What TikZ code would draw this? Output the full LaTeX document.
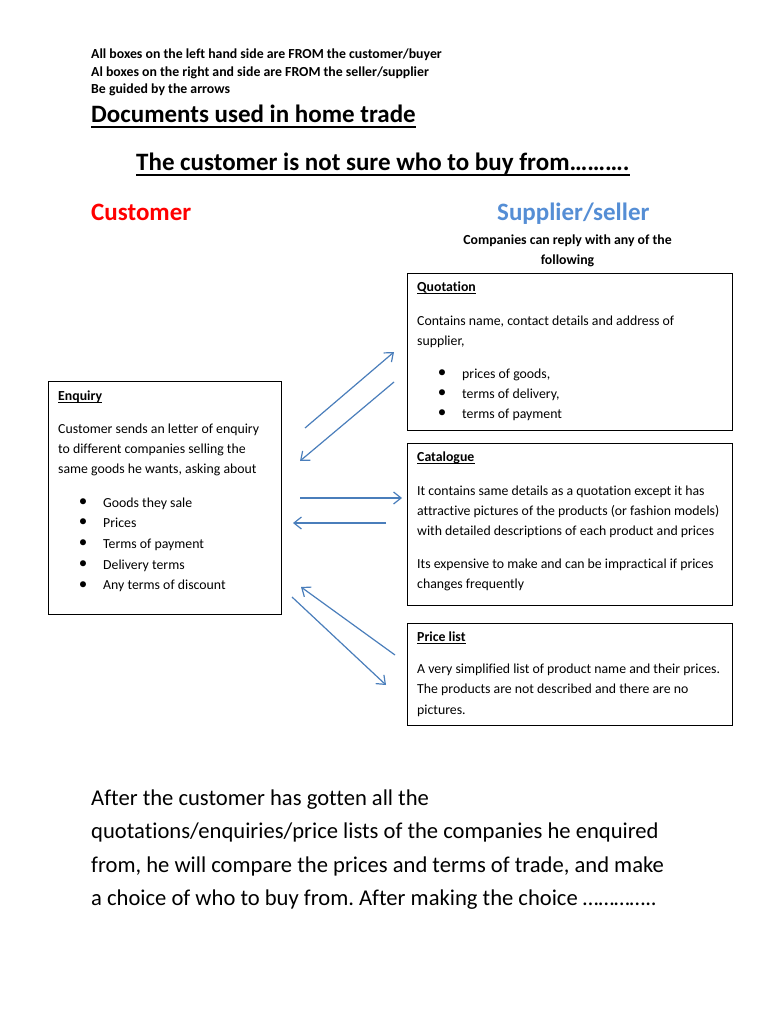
\documentclass[tikz,border=0pt]{standalone}
\usepackage{fontspec}
\setmainfont{Carlito}[Ligatures={NoCommon}]
\usetikzlibrary{arrows.meta}
\definecolor{suppblue}{HTML}{558ED5}
\definecolor{arrblue}{HTML}{4A7EBB}
\frenchspacing
\newcommand{\fsmall}{\fontsize{13.8}{16}\selectfont}
\newcommand{\fbul}{\fontsize{17}{16}\selectfont}
\newcommand{\fbig}{\fontsize{25}{30}\selectfont}
\newcommand{\fpara}{\fontsize{22.6}{27}\selectfont}
\tikzset{
  txt/.style={inner sep=0pt, anchor=base west, font=\fsmall},
  btxt/.style={txt, font=\fsmall\bfseries},
  bigtxt/.style={inner sep=0pt, anchor=base west, font=\fbig\bfseries},
  paratxt/.style={inner sep=0pt, anchor=base west, font=\fpara},
  bul/.style={inner sep=0pt, anchor=base, font=\fbul, yshift=0.5pt},
  docbox/.style={draw=black, line width=1pt, inner sep=0pt, fill=none},
  arr/.style={draw=arrblue, line width=1.2pt, -{Straight Barb[length=7.5pt,width=12pt,line width=1.2pt]}},
  uline/.style={line width=#1},
}
\begin{document}
\begin{tikzpicture}[x=1pt,y=-1pt]
\useasboundingbox[fill=white] (0,0) rectangle (768,1024);

% header notes
\node[btxt] (n1) at (91,59) {All boxes on the left hand side are FROM the customer/buyer};
\node[btxt] (n2) at (91,76.5) {Al boxes on the right and side are FROM the seller/supplier};
\node[btxt] (n3) at (91,94) {Be guided by the arrows};

% title
\node[bigtxt] (title) at (91,123) {Documents used in home trade};
\draw[uline=2pt] ([yshift=-4pt]title.base west) -- ([yshift=-4pt]title.base east);
\node[bigtxt] (sub) at (136,171) {The customer is not sure who to buy from……….};
\draw[uline=2pt] ([yshift=-4pt]sub.base west) -- ([yshift=-4pt]sub.base east);

\node[bigtxt, text=red] (cust) at (91,221) {Customer};
\node[bigtxt, text=suppblue] (supp) at (497,221) {Supplier/seller};

\node[btxt, anchor=base] (rep1) at (567.5,244.5) {Companies can reply with any of the};
\node[btxt, anchor=base] (rep2) at (567.5,264.5) {following};

% boxes
\node[docbox, minimum width=325pt, minimum height=157pt] (quot) at (569.5,351.5) {};
\node[docbox, minimum width=325pt, minimum height=162pt] (cata) at (569.5,524) {};
\node[docbox, minimum width=325pt, minimum height=102pt] (plist) at (569.5,674) {};
\node[docbox, minimum width=233pt, minimum height=233pt] (enq) at (164.5,497.5) {};

% Quotation text
\node[btxt] (qt) at (417,291.5) {Quotation};
\draw[uline=0.9pt] ([yshift=-2pt]qt.base west) -- ([yshift=-2pt]qt.base east);
\node[txt] (q1) at (417,325) {Contains name, contact details and address of};
\node[txt] (q2) at (417,345) {supplier,};
\node[bul] (qb1) at (442,378) {•};
\node[bul] (qb2) at (442,398) {•};
\node[bul] (qb3) at (442,418) {•};
\node[txt] (q3) at (462,378) {prices of goods,};
\node[txt] (q4) at (462,398) {terms of delivery,};
\node[txt] (q5) at (462,418) {terms of payment};

% Catalogue text
\node[btxt] (ct) at (417,461.5) {Catalogue};
\draw[uline=0.9pt] ([yshift=-2pt]ct.base west) -- ([yshift=-2pt]ct.base east);
\node[txt] (c1) at (417,495) {It contains same details as a quotation except it has};
\node[txt] (c2) at (417,515) {attractive pictures of the products (or fashion models)};
\node[txt] (c3) at (417,535.5) {with detailed descriptions of each product and prices};
\node[txt] (c4) at (417,568) {Its expensive to make and can be impractical if prices};
\node[txt] (c5) at (417,588) {changes frequently};

% Price list text
\node[btxt] (pt) at (417,641.5) {Price list};
\draw[uline=0.9pt] ([yshift=-2pt]pt.base west) -- ([yshift=-2pt]pt.base east);
\node[txt] (p1) at (417,673) {A very simplified list of product name and their prices.};
\node[txt] (p2) at (417,693.5) {The products are not described and there are no};
\node[txt] (p3) at (417,714) {pictures.};

% Enquiry text
\node[btxt] (et) at (58,400) {Enquiry};
\draw[uline=0.9pt] ([yshift=-2pt]et.base west) -- ([yshift=-2pt]et.base east);
\node[txt] (e1) at (58,433) {Customer sends an letter of enquiry};
\node[txt] (e2) at (58,453) {to different companies selling the};
\node[txt] (e3) at (58,473) {same goods he wants, asking about};
\node[bul] (eb1) at (83,507) {•};
\node[bul] (eb2) at (83,527) {•};
\node[bul] (eb3) at (83,548) {•};
\node[bul] (eb4) at (83,569) {•};
\node[bul] (eb5) at (83,589.5) {•};
\node[txt] (e4) at (103,507) {Goods they sale};
\node[txt] (e5) at (103,527) {Prices};
\node[txt] (e6) at (103,548) {Terms of payment};
\node[txt] (e7) at (103,569) {Delivery terms};
\node[txt] (e8) at (103,589.5) {Any terms of discount};

% arrows
\coordinate (a1s) at (305,428);
\coordinate (a1e) at (394,352);
\coordinate (a2s) at (394,382);
\coordinate (a2e) at (300,461);
\coordinate (a3s) at (300,498);
\coordinate (a3e) at (402,498);
\coordinate (a4s) at (386,523);
\coordinate (a4e) at (293,523);
\coordinate (a5s) at (395,655);
\coordinate (a5e) at (301,587);
\coordinate (a6s) at (292,597);
\coordinate (a6e) at (386,685);
\draw[arr] (a1s) -- (a1e);
\draw[arr] (a2s) -- (a2e);
\draw[arr] (a3s) -- (a3e);
\draw[arr] (a4s) -- (a4e);
\draw[arr] (a5s) -- (a5e);
\draw[arr] (a6s) -- (a6e);

% closing paragraph
\node[paratxt] (l1) at (91,805) {After the customer has gotten all the};
\node[paratxt] (l2) at (91,838.5) {quotations/enquiries/price lists of the companies he enquired};
\node[paratxt] (l3) at (91,872) {from, he will compare the prices and terms of trade, and make};
\node[paratxt] (l4) at (91,905.5) {a choice of who to buy from. After making the choice …………..};
\end{tikzpicture}
\end{document}
